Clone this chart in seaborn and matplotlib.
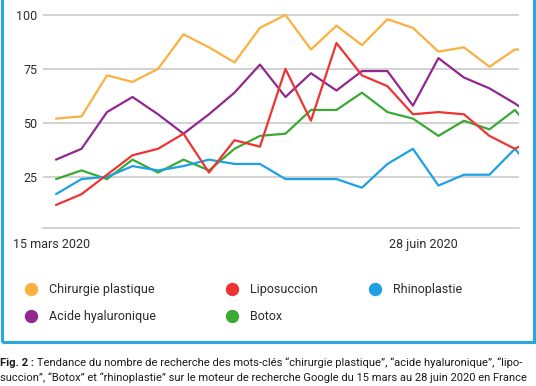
import numpy as np
import pandas as pd
import matplotlib
matplotlib.use("Agg")
import matplotlib.pyplot as plt
import matplotlib.transforms as mtransforms
from matplotlib.lines import Line2D
from matplotlib.patches import Rectangle
import seaborn as sns

# Weekly Google Trends index, from 15 March 2020 (last point is clipped at the right edge)
chirurgie = [52, 53, 72, 69, 75, 91, 85, 78, 94, 100, 84, 95, 86, 98, 94, 83, 85, 76, 84, 84]
acide = [33, 38, 55, 62, 54, 45, 54, 64, 77, 62, 73, 65, 74, 74, 58, 80, 71, 66, 59, 51]
lipo = [12, 17, 26, 35, 38, 45, 27, 42, 39, 75, 51, 87, 72, 67, 54, 55, 54, 44, 38, 44]
botox = [24, 28, 24, 33, 27, 33, 28, 38, 44, 45, 56, 56, 64, 55, 52, 44, 51, 47, 56, 42]
rhino = [17, 24, 25, 30, 28, 30, 33, 31, 31, 24, 24, 24, 20, 31, 38, 21, 26, 26, 38, 24]

noms = ["Chirurgie plastique", "Acide hyaluronique", "Liposuccion", "Botox", "Rhinoplastie"]
couleurs = ["#FBB040", "#92278F", "#EE3433", "#3AAA35", "#1DA1E2"]
yticks = [25, 50, 75, 100]
xlabels = ["15 mars 2020", "28 juin 2020"]

series = [chirurgie, acide, lipo, botox, rhino]
df = pd.concat(
    [pd.DataFrame({"semaine": np.arange(len(v)), "valeur": v, "mot": n}) for n, v in zip(noms, series)],
    ignore_index=True,
)

sns.set_style("white")
plt.rcParams["font.family"] = ["Roboto", "DejaVu Sans"]

fig = plt.figure(figsize=(5.36, 3.86), dpi=100)
ax = fig.add_axes([43 / 536, 1 - 228.3 / 386, 476 / 536, 220.3 / 386])

sns.lineplot(data=df, x="semaine", y="valeur", hue="mot", palette=dict(zip(noms, couleurs)),
             hue_order=["Chirurgie plastique", "Acide hyaluronique", "Botox", "Rhinoplastie", "Liposuccion"],
             linewidth=1.6, legend=False, ax=ax)

ax.set_xlim(-0.51, 18.16)
ax.set_ylim(1.2, 103.2)
ax.set_yticks(yticks)
ax.set_yticklabels([str(t) for t in yticks])
ax.yaxis.grid(True, color="#c6c6c6", linewidth=1.1)
ax.set_axisbelow(True)
for s in ["top", "right", "left"]:
    ax.spines[s].set_visible(False)
ax.spines["bottom"].set_color("#c6c6c6")
ax.spines["bottom"].set_linewidth(1.1)
ax.set_xlabel("")
ax.set_ylabel("")
ax.set_xticks([0, 15])
ax.set_xticklabels(xlabels)
ax.tick_params(axis="both", length=0, labelsize=9, colors="#2b2b2b")
ax.tick_params(axis="x", pad=7)
ax.tick_params(axis="y", pad=4)
for lab, dx in zip(ax.get_xticklabels(), [-4, -15]):
    lab.set_transform(lab.get_transform() + mtransforms.ScaledTranslation(dx / 100, 0, fig.dpi_scale_trans))

# legend in three columns
colonnes = [(24.75, [0, 1]), (225.75, [2, 3]), (368.75, [4])]
for x0, idx in colonnes:
    handles = [Line2D([], [], marker="o", linestyle="none", markersize=8.6,
                      markerfacecolor=couleurs[i], markeredgecolor=couleurs[i]) for i in idx]
    fig.legend(handles, [noms[i] for i in idx], loc="upper left",
               bbox_to_anchor=(x0 / 536, 1 - 283 / 386), frameon=False, fontsize=9,
               borderpad=0, borderaxespad=0, handlelength=1.0, handletextpad=0.94,
               labelspacing=1.12, labelcolor="#2b2b2b")

# blue frame
fig.add_artist(Rectangle((1.5 / 536, 1 - 342 / 386), 532 / 536, 342 / 386 + 0.05,
                         transform=fig.transFigure, fill=False, edgecolor="#29A8E0",
                         linewidth=2.2, clip_on=False))

# caption
t = fig.text(0.5 / 536, 1 - 363 / 386, "Fig. 2 :", fontsize=8.1, fontweight="bold", va="center", color="#1a1a1a")
ax.annotate(" Tendance du nombre de recherche des mots-clés “chirurgie plastique”, “acide hyaluronique”, “lipo-",
            xy=(1, 0.5), xycoords=t, va="center", ha="left", fontsize=8.1, color="#1a1a1a",
            annotation_clip=False)
fig.text(0.5 / 536, 1 - 377.5 / 386,
         "succion”, “Botox” et “rhinoplastie” sur le moteur de recherche Google du 15 mars au 28 juin 2020 en France",
         fontsize=8.0, va="center", color="#1a1a1a")

fig.savefig("out.png", dpi=100)
